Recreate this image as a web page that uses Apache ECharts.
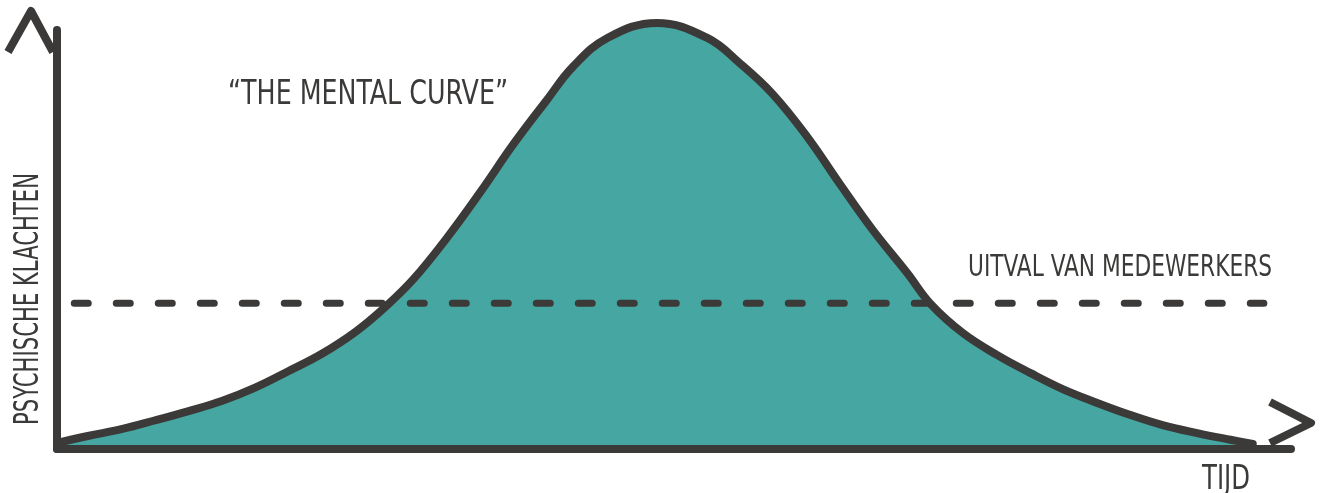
<!DOCTYPE html>
<html>
<head>
<meta charset="utf-8">
<script src="https://cdn.jsdelivr.net/npm/echarts@6/dist/echarts.min.js"></script>
<style>
  html, body { margin: 0; padding: 0; background: #fff; }
  #main { width: 1321px; height: 493px; }
</style>
</head>
<body>
<div id="main"></div>
<script>
// "the mental curve": tijd (x) vs psychische klachten (y)
const curveTime = [0.2, 2.5, 5.3, 7.9, 10.6, 13.4, 16.1, 18.7, 21.5, 24.2, 26.6, 28.9, 31.6, 34.3, 37.0,
  39.7, 41.8, 44.6, 48.6, 52.7, 55.4, 58.0, 60.8, 63.5, 66.1, 68.9, 70.8,
  73.4, 76.2, 78.9, 81.5, 84.3, 87.0, 89.6, 92.4, 95.1, 96.9];
const curveLevel = [1.6, 3.1, 4.8, 6.8, 9.0, 11.5, 14.7, 18.5, 22.8, 28.0, 33.9, 40.6, 50.4, 61.3, 72.8,
  83.3, 91.2, 98.1, 101.7, 98.1, 91.9, 84.7, 74.5, 63.0, 52.3, 42.0, 34.6,
  27.7, 22.4, 18.1, 14.3, 11.0, 8.1, 5.7, 3.8, 2.2, 1.2];
const thresholdLevel = 34.8;
const thresholdRange = [1.4, 97.8];

const title = '\u201CTHE MENTAL CURVE\u201D';
const thresholdLabel = 'UITVAL VAN MEDEWERKERS';
const xName = 'TIJD';
const yName = 'PSYCHISCHE KLACHTEN';

const dark = '#3b3a39';
const teal = '#46a6a2';
const fontFamily = '"Liberation Sans Narrow", "DejaVu Sans Condensed", "Noto Sans", sans-serif';

const curve = curveTime.map((t, i) => [t, curveLevel[i]]);

// squeeze text horizontally so it takes the width of the hand lettering
const ctx = document.createElement('canvas').getContext('2d');
function fit(text, size, width) {
  ctx.font = size + 'px ' + fontFamily;
  return width / ctx.measureText(text).width;
}

function label(text, x, y, size, width, rotation) {
  return {
    type: 'text',
    x: x,
    y: y,
    rotation: rotation || 0,
    scaleX: fit(text, size, width),
    z: 20,
    style: {
      text: text,
      font: size + 'px ' + fontFamily,
      fill: dark,
      align: 'center',
      verticalAlign: 'middle'
    }
  };
}

const chart = echarts.init(document.getElementById('main'));

const axisCommon = {
  type: 'value',
  min: 0,
  max: 100,
  z: 10,
  axisLine: { show: true, lineStyle: { color: dark, width: 8, cap: 'round' } },
  axisTick: { show: false },
  axisLabel: { show: false },
  splitLine: { show: false }
};

chart.setOption({
  animation: false,
  backgroundColor: '#fff',
  grid: { left: 57, top: 30, width: 1234, height: 419 },
  xAxis: axisCommon,
  yAxis: axisCommon,
  series: [
    {
      type: 'line',
      data: curve,
      smooth: 0.4,
      showSymbol: false,
      clip: false,
      z: 1,
      lineStyle: { width: 0, opacity: 0 },
      areaStyle: { color: teal, opacity: 1 }
    },
    {
      type: 'line',
      data: thresholdRange.map((t) => [t, thresholdLevel]),
      showSymbol: false,
      z: 2,
      lineStyle: { color: dark, width: 7, type: [14, 28], cap: 'round' }
    },
    {
      type: 'line',
      data: curve,
      smooth: 0.4,
      showSymbol: false,
      clip: false,
      z: 3,
      lineStyle: { color: dark, width: 8, cap: 'round', join: 'round' }
    }
  ],
  graphic: [
    {
      type: 'polyline',
      z: 20,
      shape: { points: [[8, 52], [31, 11], [53, 52]] },
      style: { stroke: dark, lineWidth: 8, fill: null, lineJoin: 'round' }
    },
    {
      type: 'polyline',
      z: 20,
      shape: { points: [[1270, 402], [1311, 423], [1270, 443]] },
      style: { stroke: dark, lineWidth: 8, fill: null, lineJoin: 'round' }
    },
    label(title, 368, 95, 33, 280),
    label(thresholdLabel, 1120, 268, 30, 304),
    label(xName, 1226, 480, 33, 48),
    label(yName, 29, 299, 33, 252, Math.PI / 2)
  ]
});
</script>
</body>
</html>
